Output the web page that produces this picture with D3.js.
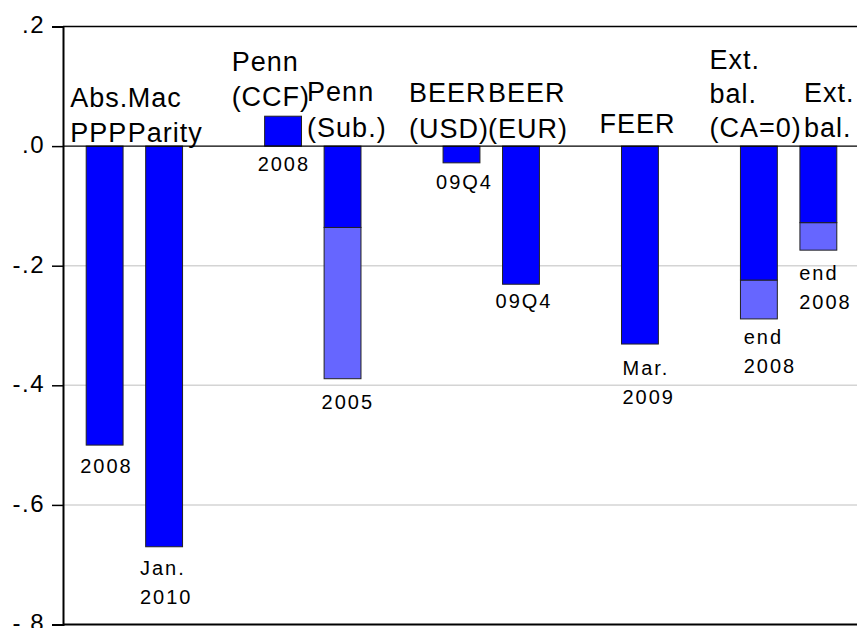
<!DOCTYPE html>
<html>
<head>
<meta charset="utf-8">
<script src="https://cdn.jsdelivr.net/npm/d3@7"></script>
<style>
  html, body { margin: 0; padding: 0; background: #fff; }
  svg { display: block; }
  text { font-family: "Liberation Sans", Arial, sans-serif; fill: #000; }
</style>
</head>
<body>
<script>
// ---------------- data ----------------
const categories = ["Abs. PPP", "Mac Parity", "", "Penn (CCF)", "Penn (Sub.)", "",
                    "BEER (USD)", "BEER (EUR)", "", "FEER", "", "Ext. bal. (CA=0)", "Ext. bal."];
const topLabels = [["Abs.", "PPP"], ["Mac", "Parity"], [], ["Penn", "(CCF)"], ["Penn", "(Sub.)"], [],
                   ["BEER", "(USD)"], ["BEER", "(EUR)"], [], ["FEER"], [], ["Ext.", "bal.", "(CA=0)"], ["Ext.", "bal."]];
const baseValues  = [-0.50, -0.67, null, 0.05, -0.136, null, -0.028, -0.231, null, -0.331, null, -0.224, -0.128];
const totalValues = [null, null, null, null, -0.389, null, null, null, null, null, null, -0.289, -0.174];
const dateLabels = [["2008"], ["Jan.", "2010"], [], ["2008"], ["2005"], [],
                    ["09Q4"], ["09Q4"], [], ["Mar.", "2009"], [], ["end", "2008"], ["end", "2008"]];
const yTicks = [0.2, 0, -0.2, -0.4, -0.6, -0.8];
const gridTicks = [-0.2, -0.4, -0.6];

// ---------------- layout (label nudges, px) ----------------
const topLayout = [
  {dx: -16, gap: 4.3, lh: 35}, {dx: -18, gap: 4.3, lh: 35}, null,
  {dx: -33, gap: 10, lh: 35.7}, {dx: -17, gap: 8.7, lh: 36.3}, null,
  {dx: -34, gap: 7.7, lh: 36}, {dx: -14.5, gap: 7.7, lh: 36}, null,
  {dx: -22, gap: 13.3, lh: 35}, null,
  {dx: -31, gap: 9.3, lh: 34}, {dx: 4, gap: 8.7, lh: 35}
];
const dateLayout = [
  {dx: -6, gap: 27.7}, {dx: -5.7, gap: 28.3}, null,
  {dx: -7, gap: 25}, {dx: -2.5, gap: 30}, null,
  {dx: -7, gap: 26}, {dx: -7, gap: 24}, null,
  {dx: 1, gap: 31.3}, null,
  {dx: 3.3, gap: 25.3}, {dx: -0.7, gap: 30}
];

// ---------------- chart ----------------
const W = 857, H = 628;
const mLeft = 63, mRight = 860, mTop = 26.5, mBottom = 624.5;

const svg = d3.select("body").append("svg").attr("width", W).attr("height", H);

const x = d3.scaleBand()
  .domain(categories.map((_, i) => i))
  .range([mLeft, mRight])
  .paddingInner(0.38)
  .paddingOuter(0.39);

const y = d3.scaleLinear().domain([-0.8, 0.2]).range([mBottom, mTop]);

// gridlines
svg.append("g").selectAll("line").data(gridTicks).join("line")
  .attr("x1", mLeft).attr("x2", W)
  .attr("y1", d => y(d)).attr("y2", d => y(d))
  .attr("stroke", "#d4d4d4").attr("stroke-width", 1.5);

const idx = categories.map((_, i) => i);

// light (extended) segments
svg.append("g").selectAll("rect")
  .data(idx.filter(i => totalValues[i] != null)).join("rect")
  .attr("x", i => x(i))
  .attr("width", x.bandwidth())
  .attr("y", i => y(baseValues[i]))
  .attr("height", i => y(totalValues[i]) - y(baseValues[i]))
  .attr("fill", "#6666ff")
  .attr("stroke", "#222").attr("stroke-width", 1);

// main bars
svg.append("g").selectAll("rect")
  .data(idx.filter(i => baseValues[i] != null)).join("rect")
  .attr("x", i => x(i))
  .attr("width", x.bandwidth())
  .attr("y", i => y(Math.max(0, baseValues[i])))
  .attr("height", i => Math.abs(y(baseValues[i]) - y(0)))
  .attr("fill", "#0000ff")
  .attr("stroke", "#222").attr("stroke-width", 1);

// zero line
svg.append("line")
  .attr("x1", mLeft).attr("x2", W)
  .attr("y1", y(0)).attr("y2", y(0))
  .attr("stroke", "#000").attr("stroke-width", 1.2);

// frame: top, bottom
svg.append("line").attr("x1", mLeft).attr("x2", W).attr("y1", y(0.2)).attr("y2", y(0.2))
  .attr("stroke", "#000").attr("stroke-width", 1.5);
svg.append("line").attr("x1", mLeft).attr("x2", W).attr("y1", y(-0.8)).attr("y2", y(-0.8))
  .attr("stroke", "#000").attr("stroke-width", 2);

// y axis
const fmt = d => d3.format(".1f")(d).replace("\u2212", "-").replace("0.", ".");
const yAxis = svg.append("g")
  .attr("transform", `translate(${mLeft},0)`)
  .call(d3.axisLeft(y).tickValues(yTicks).tickSize(11).tickPadding(7).tickFormat(fmt));
yAxis.select(".domain").attr("stroke", "#000").attr("stroke-width", 2);
yAxis.selectAll(".tick line").attr("stroke", "#000").attr("stroke-width", 1.5);
yAxis.selectAll(".tick text")
  .attr("font-size", 24)
  .attr("font-family", "Liberation Sans, Arial, sans-serif")
  .attr("letter-spacing", 1.5)
  .attr("dy", null)
  .attr("y", 6.3)
  .attr("fill", "#000");

// top (method) labels
idx.forEach(i => {
  const lines = topLabels[i];
  if (!lines.length) return;
  const L = topLayout[i];
  const lastBase = y(Math.max(0, baseValues[i])) - L.gap;
  const n = lines.length;
  const t = svg.append("text")
    .attr("font-size", 27)
    .attr("letter-spacing", 1);
  lines.forEach((s, k) => {
    t.append("tspan")
      .attr("x", x(i) + L.dx)
      .attr("y", lastBase - (n - 1 - k) * L.lh)
      .text(s);
  });
});

// date labels below bars
idx.forEach(i => {
  const lines = dateLabels[i];
  if (!lines.length) return;
  const L = dateLayout[i];
  const end = totalValues[i] != null ? totalValues[i] : Math.min(0, baseValues[i]);
  const firstBase = y(end) + L.gap;
  const t = svg.append("text")
    .attr("font-size", 20)
    .attr("letter-spacing", 2);
  lines.forEach((s, k) => {
    t.append("tspan")
      .attr("x", x(i) + L.dx)
      .attr("y", firstBase + k * 29)
      .text(s);
  });
});
</script>
</body>
</html>
